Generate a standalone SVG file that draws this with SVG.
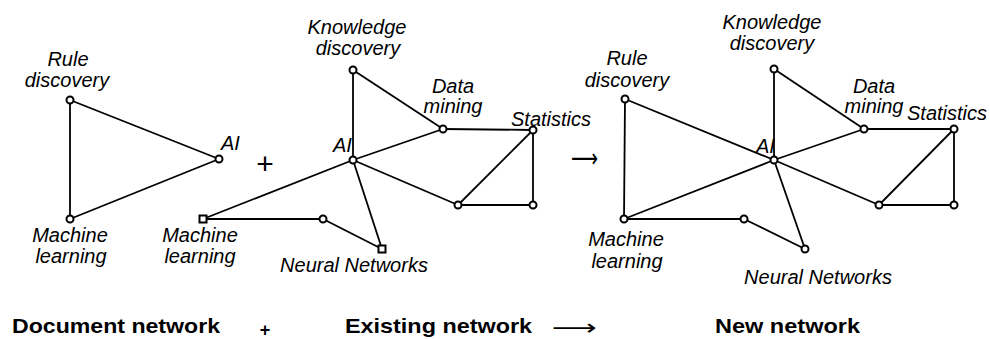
<svg xmlns="http://www.w3.org/2000/svg" width="990" height="339" viewBox="0 0 990 339">
  <style>
    .edge { stroke: #000; stroke-width: 1.8; fill: none; }
    .node { fill: #fff; stroke: #000; stroke-width: 2; }
    .lbl { font-family: "Liberation Sans", Arial, sans-serif; font-style: italic; font-size: 20px; fill: #000; }
    .mid { text-anchor: middle; }
    .title { font-family: "Liberation Sans", Arial, sans-serif; font-weight: bold; font-size: 21px; fill: #000; }
    .op { font-family: "Liberation Sans", Arial, sans-serif; fill: #000; }
    .arrow { font-family: "DejaVu Sans", sans-serif; fill: #000; }
  </style>
  <rect width="990" height="339" fill="#fff"/>

  <!-- connectors -->
  <g id="connectors" class="edge">
    <!-- document network -->
    <line x1="70" y1="100" x2="219" y2="159"/>
    <line x1="70" y1="100" x2="70" y2="219"/>
    <line x1="70" y1="219" x2="219" y2="159"/>
    <!-- existing network -->
    <line x1="353" y1="70" x2="353" y2="160"/>
    <line x1="353" y1="70" x2="443" y2="129"/>
    <line x1="443" y1="129" x2="353" y2="160"/>
    <line x1="443" y1="129" x2="533" y2="130"/>
    <line x1="533" y1="130" x2="458" y2="205"/>
    <line x1="533" y1="130" x2="533" y2="205"/>
    <line x1="458" y1="205" x2="533" y2="205"/>
    <line x1="353" y1="160" x2="458" y2="205"/>
    <line x1="353" y1="160" x2="203" y2="219"/>
    <line x1="353" y1="160" x2="382" y2="249"/>
    <line x1="203" y1="219" x2="323" y2="219"/>
    <line x1="323" y1="219" x2="382" y2="249"/>
    <!-- new network -->
    <line x1="625" y1="99" x2="774" y2="160"/>
    <line x1="625" y1="99" x2="624" y2="219"/>
    <line x1="624" y1="219" x2="774" y2="160"/>
    <line x1="774" y1="69" x2="774" y2="160"/>
    <line x1="774" y1="69" x2="864" y2="129"/>
    <line x1="864" y1="129" x2="774" y2="160"/>
    <line x1="864" y1="129" x2="954" y2="129"/>
    <line x1="954" y1="129" x2="879" y2="205"/>
    <line x1="954" y1="129" x2="954" y2="205"/>
    <line x1="879" y1="205" x2="954" y2="205"/>
    <line x1="774" y1="160" x2="879" y2="205"/>
    <line x1="774" y1="160" x2="805" y2="249"/>
    <line x1="624" y1="219" x2="744" y2="219"/>
    <line x1="744" y1="219" x2="805" y2="249"/>
  </g>

  <!-- document network nodes -->
  <g id="doc-rule-discovery">
    <circle class="node" cx="70" cy="100" r="3.5"/>
    <text class="lbl mid" x="68" y="66">Rule</text>
    <text class="lbl mid" x="67" y="87">discovery</text>
  </g>
  <g id="doc-ai">
    <circle class="node" cx="219" cy="159" r="3.5"/>
    <text class="lbl" x="221" y="150">AI</text>
  </g>
  <g id="doc-machine-learning">
    <circle class="node" cx="70" cy="219" r="3.5"/>
    <text class="lbl mid" x="70" y="242">Machine</text>
    <text class="lbl mid" x="71" y="263">learning</text>
  </g>

  <!-- existing network nodes -->
  <g id="ex-knowledge-discovery">
    <circle class="node" cx="353" cy="70" r="3.5"/>
    <text class="lbl mid" x="357" y="34">Knowledge</text>
    <text class="lbl mid" x="358" y="55">discovery</text>
  </g>
  <g id="ex-data-mining">
    <circle class="node" cx="443" cy="129" r="3.5"/>
    <text class="lbl mid" x="453" y="93">Data</text>
    <text class="lbl mid" x="453" y="113">mining</text>
  </g>
  <g id="ex-statistics">
    <circle class="node" cx="533" cy="130" r="3.5"/>
    <text class="lbl" x="511" y="126">Statistics</text>
  </g>
  <g id="ex-ai">
    <circle class="node" cx="353" cy="160" r="3.5"/>
    <text class="lbl" x="333" y="152">AI</text>
  </g>
  <g id="ex-node-lower-mid">
    <circle class="node" cx="458" cy="205" r="3.5"/>
  </g>
  <g id="ex-node-lower-right">
    <circle class="node" cx="533" cy="205" r="3.5"/>
  </g>
  <g id="ex-machine-learning">
    <rect class="node" x="199.5" y="215.5" width="7" height="7"/>
    <text class="lbl mid" x="200" y="242">Machine</text>
    <text class="lbl mid" x="200" y="263">learning</text>
  </g>
  <g id="ex-node-mid">
    <circle class="node" cx="323" cy="219" r="3.5"/>
  </g>
  <g id="ex-neural-networks">
    <rect class="node" x="378.5" y="245.5" width="7" height="7"/>
    <text class="lbl mid" x="354" y="272">Neural Networks</text>
  </g>

  <!-- new network nodes -->
  <g id="new-rule-discovery">
    <circle class="node" cx="625" cy="99" r="3.5"/>
    <text class="lbl mid" x="627" y="65">Rule</text>
    <text class="lbl mid" x="627" y="87">discovery</text>
  </g>
  <g id="new-knowledge-discovery">
    <circle class="node" cx="774" cy="69" r="3.5"/>
    <text class="lbl mid" x="772" y="29">Knowledge</text>
    <text class="lbl mid" x="772" y="50">discovery</text>
  </g>
  <g id="new-data-mining">
    <circle class="node" cx="864" cy="129" r="3.5"/>
    <text class="lbl mid" x="874" y="93">Data</text>
    <text class="lbl mid" x="874" y="113">mining</text>
  </g>
  <g id="new-statistics">
    <circle class="node" cx="954" cy="129" r="3.5"/>
    <text class="lbl" x="907" y="120">Statistics</text>
  </g>
  <g id="new-ai">
    <circle class="node" cx="774" cy="160" r="3.5"/>
    <text class="lbl" x="756" y="153">AI</text>
  </g>
  <g id="new-node-lower-mid">
    <circle class="node" cx="879" cy="205" r="3.5"/>
  </g>
  <g id="new-node-lower-right">
    <circle class="node" cx="954" cy="205" r="3.5"/>
  </g>
  <g id="new-machine-learning">
    <circle class="node" cx="624" cy="219" r="3.5"/>
    <text class="lbl mid" x="626" y="246">Machine</text>
    <text class="lbl mid" x="627" y="268">learning</text>
  </g>
  <g id="new-node-mid">
    <circle class="node" cx="744" cy="219" r="3.5"/>
  </g>
  <g id="new-neural-networks">
    <circle class="node" cx="805" cy="249" r="3.5"/>
    <text class="lbl mid" x="818" y="284">Neural Networks</text>
  </g>

  <!-- operators between the networks -->
  <text class="op" x="265" y="174" font-size="30" text-anchor="middle">+</text>
  <text class="arrow" x="571" y="166.5" font-size="26" textLength="27" lengthAdjust="spacingAndGlyphs">⟶</text>

  <!-- captions -->
  <text class="title" x="12" y="333" textLength="208" lengthAdjust="spacingAndGlyphs">Document network</text>
  <text class="op" x="265" y="336" font-size="18" font-weight="bold" text-anchor="middle">+</text>
  <text class="title" x="345" y="333" textLength="187" lengthAdjust="spacingAndGlyphs">Existing network</text>
  <text class="arrow" x="552" y="334.5" font-size="22" textLength="45" lengthAdjust="spacingAndGlyphs">⟶</text>
  <text class="title" x="715" y="333" textLength="145" lengthAdjust="spacingAndGlyphs">New network</text>
</svg>
